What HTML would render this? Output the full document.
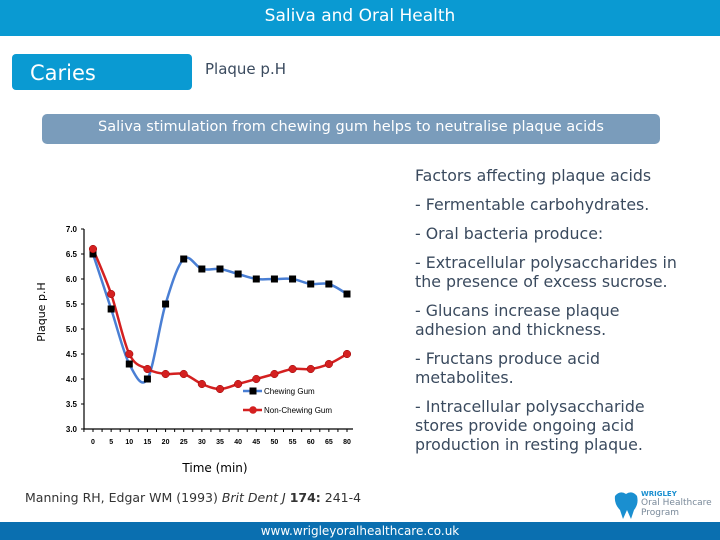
<!DOCTYPE html>
<html><head><meta charset="utf-8"><style>
body{margin:0;width:720px;height:540px;position:relative;background:#fff;font-family:"DejaVu Sans","Liberation Sans",sans-serif;overflow:hidden}
.a{position:absolute}
.r{font-size:15.8px;color:#3a4a5e;line-height:19px}
</style></head><body>
<div class="a" style="left:0;top:0;width:720px;height:36px;background:#0a9ad2;color:#fff;font-size:17px;text-align:center;line-height:32px">Saliva and Oral Health</div>
<div class="a" style="left:12px;top:54px;width:180px;height:36px;background:#0a9ad2;border-radius:4px;color:#fff;font-size:21px;line-height:38px;text-indent:18px">Caries</div>
<div class="a" style="left:205px;top:60px;font-size:15px;color:#3a4a5e">Plaque p.H</div>
<div class="a" style="left:42px;top:114px;width:618px;height:30px;background:#7a9cbb;border-radius:5px;color:#fff;font-size:14.5px;text-align:center;line-height:27px">Saliva stimulation from chewing gum helps to neutralise plaque acids</div>
<div class="a r" style="left:415px;top:166px;width:272px">
<div style="margin-bottom:10px">Factors affecting plaque acids</div>
<div style="margin-bottom:10px">- Fermentable carbohydrates.</div>
<div style="margin-bottom:10px">- Oral bacteria produce:</div>
<div style="margin-bottom:10px">- Extracellular polysaccharides in the presence of excess sucrose.</div>
<div style="margin-bottom:10px">- Glucans increase plaque<br>adhesion and thickness.</div>
<div style="margin-bottom:10px">- Fructans produce acid<br>metabolites.</div>
<div>- Intracellular polysaccharide<br>stores provide ongoing acid<br>production in resting plaque.</div>
</div>
<svg class="a" style="left:0;top:0" width="720" height="540" id="chart"></svg>
<div class="a" style="left:25px;top:490px;font-size:12.5px;color:#333">Manning RH, Edgar WM (1993) <i>Brit Dent J</i> <b>174:</b> 241-4</div>
<div class="a" style="left:612px;top:490px;width:100px;height:30px">
<svg width="30" height="30" style="position:absolute;left:0;top:0"><path d="M3 6 Q8 0 14 4 Q20 0 25 6 Q27 14 22 20 L19 29 L15 20 L11 29 L8 20 Q2 14 3 6Z" fill="#1a8fd0"/></svg>
<div style="position:absolute;left:29px;top:0;font-size:7px;color:#1a8fd0;font-weight:bold">WRIGLEY</div>
<div style="position:absolute;left:29px;top:8px;font-size:9px;color:#7a8a9a;line-height:10px">Oral Healthcare<br>Program</div></div>
<div class="a" style="left:0;top:522px;width:720px;height:18px;background:#0a6fb0;color:#fff;font-size:12px;text-align:center;line-height:18px">www.wrigleyoralhealthcare.co.uk</div>
<script>
const categories=["0","5","10","15","20","25","30","35","40","45","50","55","60","65","80"];
const chewing=[6.5,5.4,4.3,4.0,5.5,6.4,6.2,6.2,6.1,6.0,6.0,6.0,5.9,5.9,5.7];
const nonChewing=[6.6,5.7,4.5,4.2,4.1,4.1,3.9,3.8,3.9,4.0,4.1,4.2,4.2,4.3,4.5];
const yTicks=[3.0,3.5,4.0,4.5,5.0,5.5,6.0,6.5,7.0];
const svg=document.getElementById('chart');const NS='http://www.w3.org/2000/svg';
const X0=93,DX=(347-93)/(categories.length-1),Y0=429,YS=50,AX=84;
const xs=i=>X0+i*DX, ys=v=>Y0-(v-3)*YS;
function mk(t,a){const e=document.createElementNS(NS,t);for(const k in a)e.setAttribute(k,a[k]);svg.appendChild(e);return e;}
let e=mk('line',{x1:AX,y1:ys(7),x2:AX,y2:Y0,stroke:'#000','stroke-width':1.2});

e=mk('line',{x1:AX,y1:Y0,x2:xs(categories.length-1)+6,y2:Y0,stroke:'#000','stroke-width':1.2});

yTicks.forEach(v=>{mk('line',{x1:AX-3,y1:ys(v),x2:AX,y2:ys(v),stroke:'#000'});
const t=mk('text',{x:AX-7,y:ys(v)+3,'font-size':8,'font-weight':'bold','text-anchor':'end','font-family':'Liberation Sans'});t.textContent=v.toFixed(1);
});
categories.forEach((c,i)=>{mk('line',{x1:xs(i)-DX/2,y1:Y0,x2:xs(i)-DX/2,y2:Y0+3,stroke:'#000'});mk('line',{x1:xs(i),y1:Y0,x2:xs(i),y2:Y0+3,stroke:'#000'});
const t=mk('text',{x:xs(i),y:Y0+15,'font-size':7,'font-weight':'bold','text-anchor':'middle','font-family':'Liberation Sans'});t.textContent=c;
});
let t=mk('text',{x:215,y:472,'font-size':12,'text-anchor':'middle','font-family':'DejaVu Sans'});t.textContent='Time (min)';

t=mk('text',{x:0,y:0,'font-size':11,'text-anchor':'middle','font-family':'DejaVu Sans',transform:'translate(45,312) rotate(-90)'});t.textContent='Plaque p.H';

function path(vals){const p=vals.map((v,i)=>[xs(i),ys(v)]);let d='M'+p[0];for(let i=0;i<p.length-1;i++){const a=p[i-1]||p[i],b=p[i],c=p[i+1],n=p[i+2]||c;
d+=' C'+(b[0]+(c[0]-a[0])/6)+','+(b[1]+(c[1]-a[1])/6)+' '+(c[0]-(n[0]-b[0])/6)+','+(c[1]-(n[1]-b[1])/6)+' '+c;}return d;}
e=mk('path',{d:path(chewing),fill:'none',stroke:'#4a7fd4','stroke-width':2.5});

e=mk('path',{d:path(nonChewing),fill:'none',stroke:'#d42020','stroke-width':2.5});

chewing.forEach((v,i)=>{const r=mk('rect',{x:xs(i)-3.5,y:ys(v)-3.5,width:7,height:7,fill:'#000'});
});
nonChewing.forEach((v,i)=>{const c=mk('circle',{cx:xs(i),cy:ys(v),r:3.8,fill:'#d42020',stroke:'#900','stroke-width':0.5});
});
mk('line',{x1:243,y1:391,x2:262,y2:391,stroke:'#4a7fd4','stroke-width':2.5});mk('rect',{x:249.5,y:387.5,width:7,height:7,fill:'#000'});
t=mk('text',{x:264,y:394,'font-size':8,'font-family':'Liberation Sans'});t.textContent='Chewing Gum';

mk('line',{x1:243,y1:410,x2:262,y2:410,stroke:'#d42020','stroke-width':2.5});mk('circle',{cx:253,cy:410,r:3.8,fill:'#d42020'});
t=mk('text',{x:264,y:413,'font-size':8,'font-family':'Liberation Sans'});t.textContent='Non-Chewing Gum';

</script>
</body></html>
